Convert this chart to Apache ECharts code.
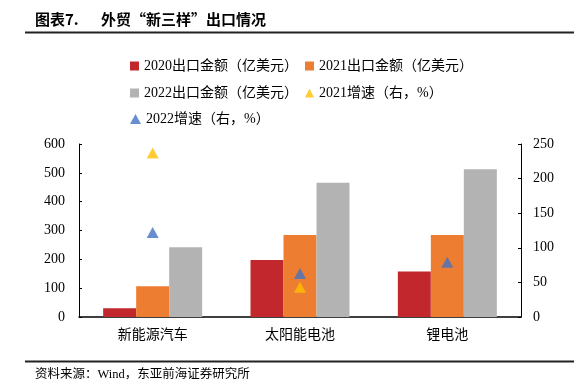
<!DOCTYPE html>
<html>
<head>
<meta charset="utf-8">
<script src="https://cdn.jsdelivr.net/npm/echarts@6/dist/echarts.min.js"></script>
<style>
  html, body { margin: 0; padding: 0; background: #fff; }
  #main { width: 580px; height: 391px; }
</style>
</head>
<body>
<div id="main"></div>
<script>
// 外贸“新三样”出口情况
const categories = ['新能源汽车', '太阳能电池', '锂电池'];
const export2020 = [30, 198, 158];
const export2021 = [107, 284, 284];
const export2022 = [242, 466, 512];
const growth2021 = [237, 43, '-'];
const growth2022 = [122, 63, 79];
const leftTicks = [0, 600, 100];   // min, max, interval
const rightTicks = [0, 250, 50];

const seriesNames = [
  '2020出口金额（亿美元）',
  '2021出口金额（亿美元）',
  '2022出口金额（亿美元）',
  '2021增速（右，%）',
  '2022增速（右，%）'
];

const serif = '"Liberation Serif", "Noto Sans CJK SC", serif';
const legendText = { fontSize: 14, color: '#000', fontFamily: serif };

const myChart = echarts.init(document.getElementById('main'));

const option = {
  animation: false,
  color: ['#C1272D', '#ED7D31', '#B3B3B3', '#FFC000', '#4472C4'],
  graphic: [
    { type: 'text', left: 35, top: 12, style: { text: '图表7.', fontSize: 15, fontWeight: 'bold', fontFamily: '"Noto Sans CJK SC"', fill: '#000' } },
    { type: 'text', left: 101, top: 12, style: { text: '外贸“新三样”出口情况', fontSize: 15, fontWeight: 'bold', fontFamily: '"Noto Sans CJK SC"', fill: '#000' } },
    { type: 'line', shape: { x1: 25, y1: 32.5, x2: 574, y2: 32.5 }, style: { stroke: '#222', lineWidth: 2 } },
    { type: 'line', shape: { x1: 25, y1: 361.5, x2: 574, y2: 361.5 }, style: { stroke: '#222', lineWidth: 2 } },
    { type: 'text', left: 35, top: 368, style: { text: '资料来源：Wind，东亚前海证券研究所', fontSize: 12.5, fontFamily: serif, fill: '#000' } }
  ],
  legend: [
    {
      left: 130, top: 59, padding: 0, itemGap: 7, itemWidth: 9, itemHeight: 9,
      textStyle: legendText,
      data: [{ name: seriesNames[0], icon: 'rect' }, { name: seriesNames[1], icon: 'rect' }]
    },
    {
      left: 130, top: 86, padding: 0, itemGap: 7, itemWidth: 9, itemHeight: 9,
      textStyle: legendText,
      data: [{ name: seriesNames[2], icon: 'rect' }, { name: seriesNames[3], icon: 'triangle' }]
    },
    {
      left: 130, top: 112, padding: 0, itemGap: 7, itemWidth: 11, itemHeight: 10,
      textStyle: legendText,
      data: [{ name: seriesNames[4], icon: 'triangle' }]
    }
  ],
  grid: { left: 79, right: 59, top: 144, bottom: 74 },
  xAxis: {
    type: 'category',
    data: categories,
    axisLine: { lineStyle: { color: '#000', width: 1.5 } },
    axisTick: { show: false },
    axisLabel: { color: '#000', fontSize: 14, fontFamily: serif, margin: 11 }
  },
  yAxis: [
    {
      type: 'value',
      min: leftTicks[0], max: leftTicks[1], interval: leftTicks[2],
      splitLine: { show: false },
      axisLine: { show: true, lineStyle: { color: '#000' } },
      axisTick: { show: true, inside: true, length: 3, lineStyle: { color: '#000' } },
      axisLabel: { color: '#000', fontSize: 14, fontFamily: serif, margin: 14 }
    },
    {
      type: 'value',
      min: rightTicks[0], max: rightTicks[1], interval: rightTicks[2],
      splitLine: { show: false },
      axisLine: { show: true, lineStyle: { color: '#000' } },
      axisTick: { show: true, inside: true, length: 3, lineStyle: { color: '#000' } },
      axisLabel: { color: '#000', fontSize: 14, fontFamily: serif, margin: 12 }
    }
  ],
  series: [
    { name: seriesNames[0], type: 'bar', barWidth: 33, barGap: '0%', data: export2020 },
    { name: seriesNames[1], type: 'bar', barWidth: 33, barGap: '0%', data: export2021 },
    { name: seriesNames[2], type: 'bar', barWidth: 33, barGap: '0%', data: export2022 },
    { name: seriesNames[3], type: 'scatter', yAxisIndex: 1, symbol: 'triangle', symbolSize: [12, 11], data: growth2021, z: 5 },
    { name: seriesNames[4], type: 'scatter', yAxisIndex: 1, symbol: 'triangle', symbolSize: [12, 11], data: growth2022, z: 5 }
  ]
};

myChart.setOption(option);
</script>
</body>
</html>
